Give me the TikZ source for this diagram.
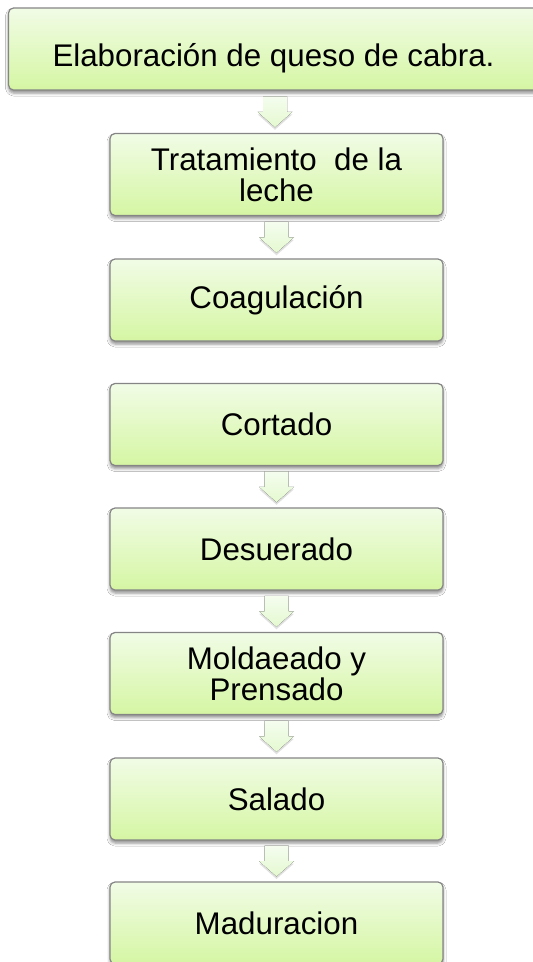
\documentclass[tikz,border=0pt]{standalone}
\usepackage{fontspec}
\setmainfont{Liberation Sans}
\usetikzlibrary{calc,shadows,shadows.blur}
\definecolor{boxtop}{HTML}{F1FCE6}
\definecolor{boxbot}{HTML}{D5F6A3}
\definecolor{boxline}{HTML}{858585}
\definecolor{arrtop}{HTML}{F5FDEF}
\definecolor{arrbot}{HTML}{E4F9D0}
\tikzset{
 stepbox/.style={draw=boxline, line width=1.2pt, rounded corners=5pt,
   top color=boxtop, bottom color=boxbot,
   minimum width=333pt, minimum height=82pt, inner sep=0pt, align=center,
   font=\fontsize{31.3}{31}\selectfont,
   blur shadow={shadow xshift=0pt, shadow yshift=-3pt, shadow blur radius=3pt, shadow opacity=45}},
 flowarrow/.style={top color=arrtop, bottom color=arrbot,
   drop shadow={shadow xshift=0pt, shadow yshift=-2.5pt, opacity=0.12, fill=black}}
}
\newcommand\flowarr[2]{%
  \path ($(#1.south)!0.5!(#2.north)$) coordinate (m#1);
  \fill[flowarrow] ([shift={(-12,-15.5)}]m#1) -- ([shift={(12,-15.5)}]m#1)
     -- ([shift={(12,0)}]m#1) -- ([shift={(17.5,0)}]m#1) -- ([shift={(0,15.5)}]m#1)
     -- ([shift={(-17.5,0)}]m#1) -- ([shift={(-12,0)}]m#1) -- cycle;}
\begin{document}
\begin{tikzpicture}[x=1pt,y=-1pt]
\useasboundingbox (0,0) rectangle (533,962);
\clip (0,0) rectangle (533,962);
\fill[white] (0,0) rectangle (533,962);
\node[stepbox, minimum width=530pt, text height=34pt, text depth=0pt] (n1) at (273.5,49) {Elaboración de queso de cabra.};
\node[stepbox] (n2) at (276.5,174.5) {Tratamiento~~de la\\leche};
\node[stepbox] (n3) at (276.5,300) {Coagulación};
\node[stepbox] (n4) at (276.5,424.5) {Cortado};
\node[stepbox] (n5) at (276.5,549) {Desuerado};
\node[stepbox] (n6) at (276.5,673.5) {Moldaeado y\\Prensado};
\node[stepbox] (n7) at (276.5,799) {Salado};
\node[stepbox] (n8) at (276.5,923) {Maduracion};
\flowarr{n1}{n2}
\flowarr{n2}{n3}
\flowarr{n4}{n5}
\flowarr{n5}{n6}
\flowarr{n6}{n7}
\flowarr{n7}{n8}
\end{tikzpicture}
\end{document}
